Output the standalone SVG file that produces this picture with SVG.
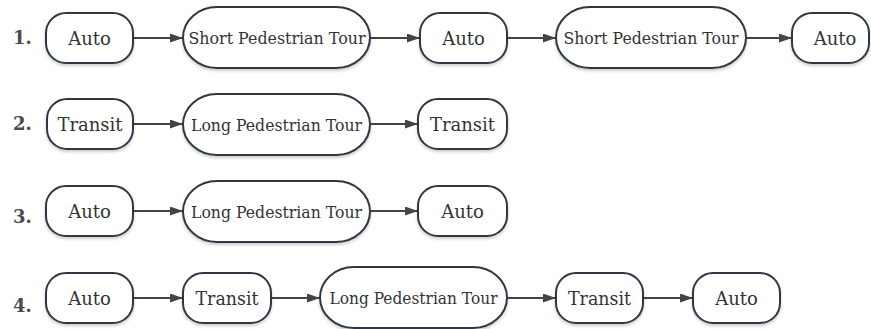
<svg xmlns="http://www.w3.org/2000/svg" width="871" height="329" viewBox="0 0 871 329">
  <style>
    .node { fill: #ffffff; stroke: #2f3944; stroke-width: 2; filter: url(#shadow); }
    .lbl { font-family: "DejaVu Serif", "Liberation Serif", serif; font-size: 18px; fill: #333; text-anchor: middle; }
    .sm { font-size: 16.5px; }
    .num { font-family: "DejaVu Serif", "Liberation Serif", serif; font-size: 18px; font-weight: bold; fill: #4a4a4a; }
    .edge { stroke: #444; stroke-width: 2; fill: none; marker-end: url(#arrow); }
  </style>
  <defs>
    <filter id="shadow" x="-10%" y="-20%" width="120%" height="150%">
      <feDropShadow dx="0" dy="2" stdDeviation="1.5" flood-color="#000" flood-opacity="0.2"/>
    </filter>
    <marker id="arrow" viewBox="0 0 13 9" refX="13" refY="4.5" markerWidth="13" markerHeight="9" markerUnits="userSpaceOnUse" orient="auto">
      <path d="M0,0 L13,4.5 L0,9 z" fill="#444"/>
    </marker>
  </defs>

  <rect width="871" height="329" fill="#ffffff"/>

  <!-- row numbers -->
  <g id="numbers">
    <text class="num" x="13" y="44">1.</text>
    <text class="num" x="13" y="130">2.</text>
    <text class="num" x="13" y="223">3.</text>
    <text class="num" x="13" y="312">4.</text>
  </g>

  <!-- connectors -->
  <g id="connectors">
    <line class="edge" x1="134" y1="38" x2="183" y2="38"/>
    <line class="edge" x1="371" y1="38" x2="420" y2="38"/>
    <line class="edge" x1="508" y1="38" x2="556" y2="38"/>
    <line class="edge" x1="747" y1="38" x2="792" y2="38"/>

    <line class="edge" x1="134" y1="124" x2="183" y2="124"/>
    <line class="edge" x1="371" y1="124" x2="418" y2="124"/>

    <line class="edge" x1="134" y1="211" x2="183" y2="211"/>
    <line class="edge" x1="371" y1="211" x2="418" y2="211"/>

    <line class="edge" x1="134" y1="298" x2="183" y2="298"/>
    <line class="edge" x1="272" y1="298" x2="320" y2="298"/>
    <line class="edge" x1="508" y1="298" x2="556" y2="298"/>
    <line class="edge" x1="644" y1="298" x2="693" y2="298"/>
  </g>

  <!-- row 1 -->
  <g id="r1-auto-1">
    <rect class="node" x="46" y="13" width="87" height="50" rx="20"/>
    <text class="lbl" x="89.5" y="45">Auto</text>
  </g>
  <g id="r1-short-1">
    <rect class="node" x="183" y="7" width="187" height="61" rx="34" ry="30.5"/>
    <text class="lbl sm" x="277" y="43.5" textLength="177" lengthAdjust="spacingAndGlyphs">Short Pedestrian Tour</text>
  </g>
  <g id="r1-auto-2">
    <rect class="node" x="420" y="13" width="87" height="50" rx="20"/>
    <text class="lbl" x="463.5" y="45">Auto</text>
  </g>
  <g id="r1-short-2">
    <rect class="node" x="556" y="7" width="190" height="61" rx="34" ry="30.5"/>
    <text class="lbl sm" x="651" y="43.5" textLength="175" lengthAdjust="spacingAndGlyphs">Short Pedestrian Tour</text>
  </g>
  <g id="r1-auto-3">
    <rect class="node" x="792" y="13" width="77" height="50" rx="20"/>
    <text class="lbl" x="835" y="45">Auto</text>
  </g>

  <!-- row 2 -->
  <g id="r2-transit-1">
    <rect class="node" x="47" y="99" width="86" height="50" rx="20"/>
    <text class="lbl" x="90" y="131">Transit</text>
  </g>
  <g id="r2-long">
    <rect class="node" x="183" y="94" width="187" height="61" rx="34" ry="30.5"/>
    <text class="lbl sm" x="276.5" y="130.5" textLength="171" lengthAdjust="spacingAndGlyphs">Long Pedestrian Tour</text>
  </g>
  <g id="r2-transit-2">
    <rect class="node" x="418" y="99" width="89" height="50" rx="20"/>
    <text class="lbl" x="462.5" y="131">Transit</text>
  </g>

  <!-- row 3 -->
  <g id="r3-auto-1">
    <rect class="node" x="46" y="186" width="87" height="50" rx="20"/>
    <text class="lbl" x="89.5" y="218">Auto</text>
  </g>
  <g id="r3-long">
    <rect class="node" x="183" y="181" width="187" height="61" rx="34" ry="30.5"/>
    <text class="lbl sm" x="276.5" y="217.5" textLength="171" lengthAdjust="spacingAndGlyphs">Long Pedestrian Tour</text>
  </g>
  <g id="r3-auto-2">
    <rect class="node" x="418" y="186" width="89" height="50" rx="20"/>
    <text class="lbl" x="462.5" y="218">Auto</text>
  </g>

  <!-- row 4 -->
  <g id="r4-auto-1">
    <rect class="node" x="46" y="273" width="87" height="50" rx="20"/>
    <text class="lbl" x="89.5" y="305">Auto</text>
  </g>
  <g id="r4-transit-1">
    <rect class="node" x="183" y="273" width="88" height="50" rx="20"/>
    <text class="lbl" x="227" y="305" textLength="63" lengthAdjust="spacingAndGlyphs">Transit</text>
  </g>
  <g id="r4-long">
    <rect class="node" x="320" y="267" width="187" height="61" rx="34" ry="30.5"/>
    <text class="lbl sm" x="413.5" y="303.5" textLength="168" lengthAdjust="spacingAndGlyphs">Long Pedestrian Tour</text>
  </g>
  <g id="r4-transit-2">
    <rect class="node" x="556" y="273" width="87" height="50" rx="20"/>
    <text class="lbl" x="599.5" y="305" textLength="63" lengthAdjust="spacingAndGlyphs">Transit</text>
  </g>
  <g id="r4-auto-2">
    <rect class="node" x="693" y="273" width="87" height="50" rx="20"/>
    <text class="lbl" x="736.5" y="305">Auto</text>
  </g>
</svg>
